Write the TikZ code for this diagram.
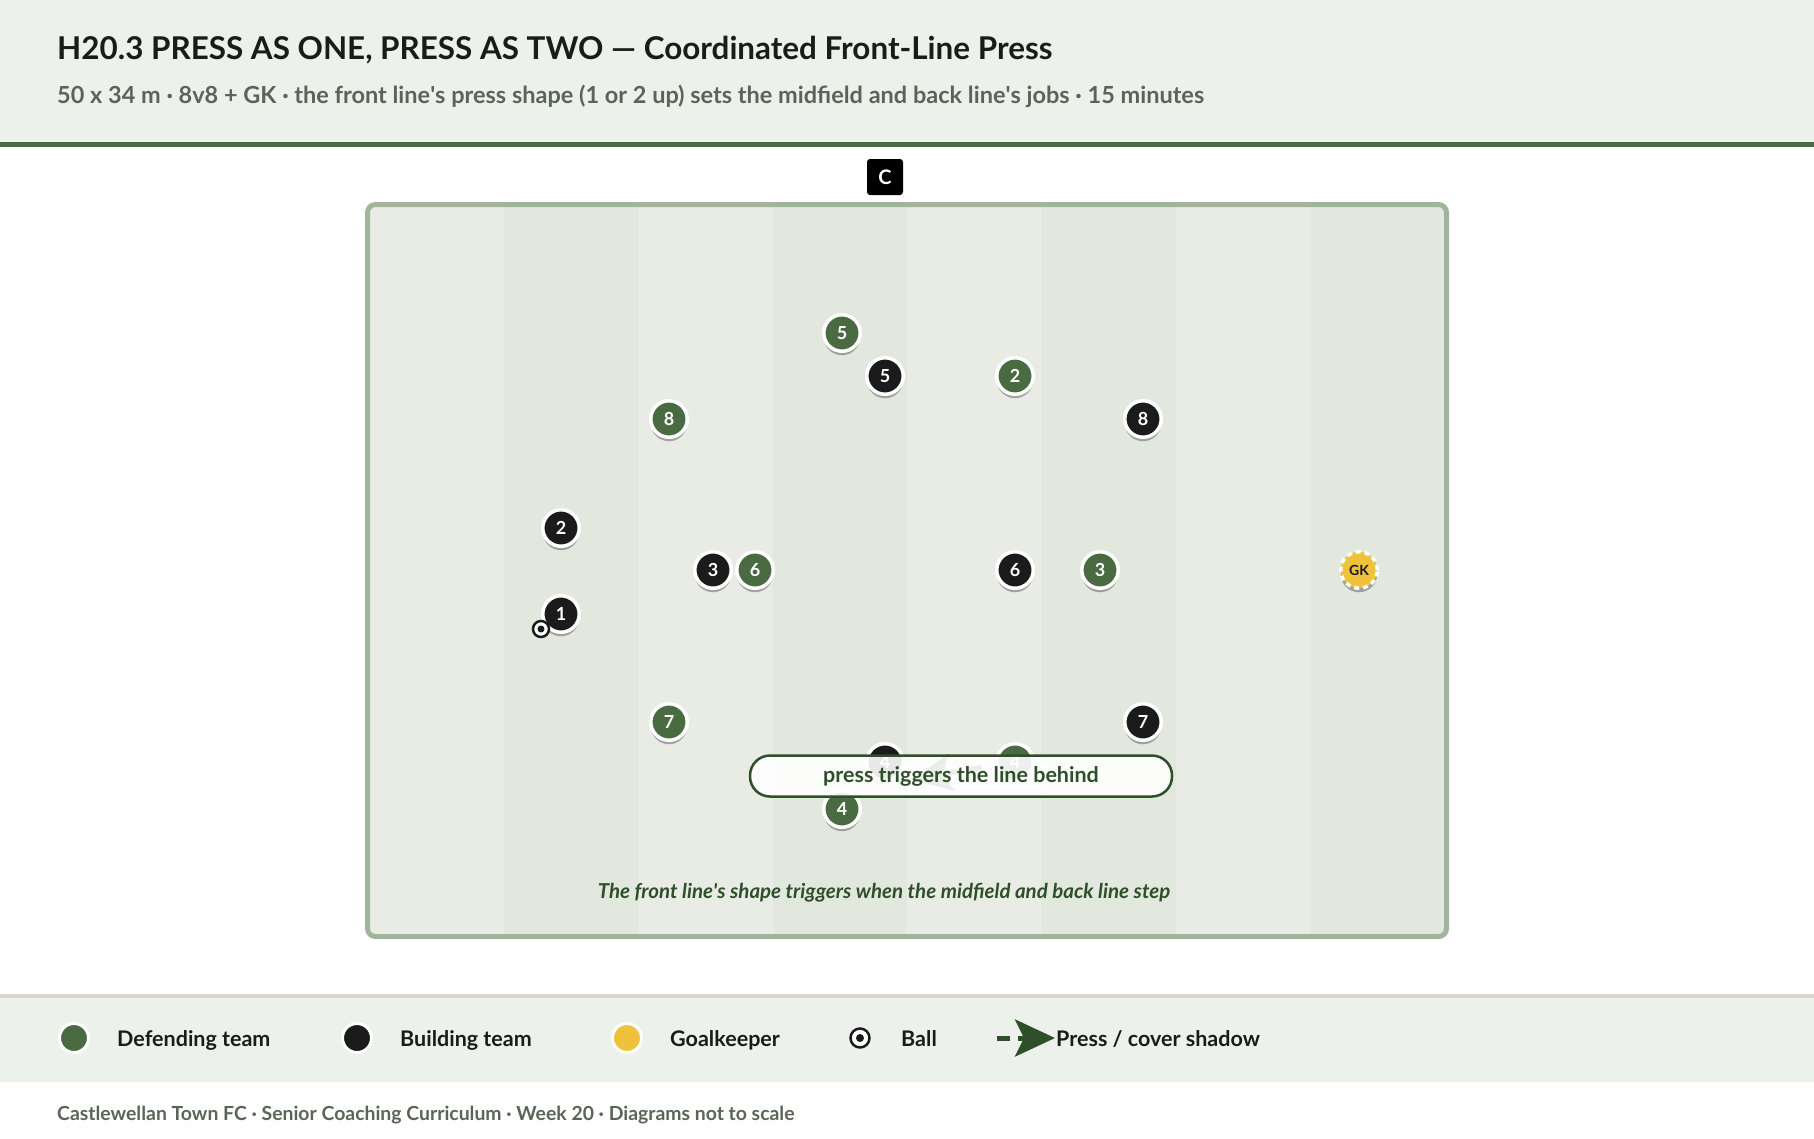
\documentclass[tikz,border=0pt]{standalone}
\usepackage{fontspec}
\setmainfont{Lato}
\usepackage{xcolor}
\usepackage{tikz}
\usetikzlibrary{positioning,arrows.meta,shadows}

\definecolor{headbg}{HTML}{EDF1EC}
\definecolor{clubgreen}{HTML}{4A6B41}
\definecolor{darkgreen}{HTML}{2F4F2A}
\definecolor{pitchline}{HTML}{A0B59B}
\definecolor{stripeA}{HTML}{E9ECE5}
\definecolor{stripeB}{HTML}{E2E8DE}
\definecolor{subgray}{HTML}{5B6557}
\definecolor{gkyellow}{HTML}{F0C23B}
\definecolor{inkblack}{HTML}{1B1B1B}
\definecolor{rulegray}{HTML}{D8D5CB}

\begin{document}
\begin{tikzpicture}[x=1pt,y=-1pt,
    player/.style={circle,draw=white,line width=3.5pt,minimum size=36.5pt,inner sep=0pt,
        text=white,font=\bfseries\fontsize{18}{18}\selectfont,
        drop shadow={shadow xshift=0pt,shadow yshift=-4pt,opacity=0.3,fill=black}},
    defender/.style={player,fill=clubgreen},
    builder/.style={player,fill=inkblack},
    keeper/.style={player,fill=gkyellow,dashed,dash pattern=on 5pt off 4pt,text=inkblack,
        font=\bfseries\fontsize{14}{14}\selectfont},
    ballmark/.style={circle,draw=inkblack,fill=white,line width=2.5pt,minimum size=16pt,inner sep=0pt},
    keydot/.style={circle,draw=white,line width=3pt,minimum size=29pt,inner sep=0pt},
    keytext/.style={anchor=base west,inner sep=0pt,text=inkblack,font=\bfseries\fontsize{21.5}{21.5}\selectfont},
    press/.style={draw=darkgreen,line width=5pt,dash pattern=on 13pt off 8pt,
        -{Stealth[length=40pt,width=37pt,inset=9pt]}},
    callout/.style={draw=darkgreen,line width=2.5pt,fill=white,fill opacity=0.9,text opacity=1,
        rounded corners=20pt,minimum width=422pt,minimum height=41pt,text=darkgreen,
        font=\bfseries\fontsize{21.5}{21.5}\selectfont}]

    % page and header
    \useasboundingbox (0,0) rectangle (1814,1138);
    \fill[white] (0,0) rectangle (1814,1138);
    \fill[headbg] (0,0) rectangle (1814,142);
    \fill[clubgreen] (0,142) rectangle (1814,147);
    \node[anchor=base west,inner sep=0pt,text=inkblack,font=\bfseries\fontsize{31.4}{31.4}\selectfont] (title) at (57,59)
        {H20.3 PRESS AS ONE, PRESS AS TWO — Coordinated Front-Line Press};
    \node[anchor=base west,inner sep=0pt,text=subgray,font=\bfseries\fontsize{23.5}{23.5}\selectfont] (subtitle) at (57,103)
        {50 x 34 m · 8v8 + GK · the front line\textquotesingle s press shape (1 or 2 up) sets the midfield and back line\textquotesingle s jobs · 15 minutes};

    % pitch
    \foreach \i/\col in {0/stripeA,1/stripeB,2/stripeA,3/stripeB,4/stripeA,5/stripeB,6/stripeA,7/stripeB}
        \fill[\col] (370+134.25*\i,207) rectangle (504.25+134.25*\i,934);
    \draw[pitchline,line width=5pt,rounded corners=8pt] (367.5,204.5) rectangle (1446.5,936.5);
    \node[fill=black,rounded corners=3pt,minimum size=36pt,inner sep=0pt,text=white,
        font=\bfseries\fontsize{20}{20}\selectfont] (coach) at (885,177) {C};

    % hidden press run under the callout
    \coordinate (presstip) at (912,779);
    \node[defender] (g4b) at (1015,762) {4};
    \draw[press,shorten <=14pt] (g4b) -- (presstip);

    % defending team
    \node[defender] (g5) at (842,333) {5};
    \node[defender] (g2) at (1015,376) {2};
    \node[defender] (g8) at (669,419) {8};
    \node[defender] (g6) at (755,570) {6};
    \node[defender] (g3) at (1100,570) {3};
    \node[defender] (g7) at (669,722) {7};
    \node[defender] (g4) at (842,809) {4};

    % building team
    \node[builder] (b5) at (885,376) {5};
    \node[builder] (b8) at (1143,419) {8};
    \node[builder] (b2) at (561,528) {2};
    \node[builder] (b3) at (713,570) {3};
    \node[builder] (b6) at (1015,570) {6};
    \node[builder] (b1) at (561,614) {1};
    \node[builder] (b7) at (1143,722) {7};
    \node[builder] (b4) at (885,762) {4};
    \node[keeper] (gk) at (1359,570) {GK};

    % ball
    \node[ballmark] (ball) at (541,629) {};
    \fill[inkblack] (ball) circle (3.5pt);

    % labels
    \node[callout] (trigger) at (961,776) {press triggers the line behind};
    \node[anchor=base,inner sep=0pt,text=darkgreen,font=\bfseries\itshape\fontsize{20.5}{20.5}\selectfont] (caption) at (884,898)
        {The front line\textquotesingle s shape triggers when the midfield and back line step};

    % legend
    \fill[rulegray] (0,994) rectangle (1814,998);
    \fill[headbg] (0,998) rectangle (1814,1082);
    \node[keydot,fill=clubgreen] (keyg) at (74,1038) {};
    \node[keytext] (keygt) at (117,1046) {Defending team};
    \node[keydot,fill=inkblack] (keyb) at (357,1038) {};
    \node[keytext] (keybt) at (400,1046) {Building team};
    \node[keydot,fill=gkyellow] (keyk) at (627,1038) {};
    \node[keytext] (keykt) at (670,1046) {Goalkeeper};
    \node[ballmark,minimum size=19pt] (keyball) at (860,1038) {};
    \fill[inkblack] (keyball) circle (4pt);
    \node[keytext] (keyballt) at (901,1046) {Ball};
    \coordinate (keyp1) at (997,1038);
    \coordinate (keyp2) at (1055,1038);
    \draw[press] (keyp1) -- (keyp2);
    \node[keytext] (keypt) at (1056,1046) {Press / cover shadow};

    % footer
    \node[anchor=base west,inner sep=0pt,text=subgray,font=\bfseries\fontsize{19.4}{19.4}\selectfont] (footer) at (57,1120)
        {Castlewellan Town FC · Senior Coaching Curriculum · Week 20 · Diagrams not to scale};
\end{tikzpicture}
\end{document}
